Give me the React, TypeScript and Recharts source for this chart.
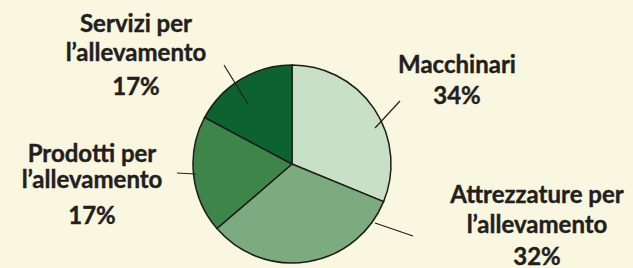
import { PieChart, Pie, Cell } from 'recharts';

// categorie (in senso orario dall'alto)
const categories: string[][] = [
  ['Macchinari'],
  ['Attrezzature per', 'l’allevamento'],
  ['Prodotti per', 'l’allevamento'],
  ['Servizi per', 'l’allevamento'],
];
// ampiezza degli spicchi come disegnati nel grafico
const shares = [31.2, 32.5, 19.1, 17.2];
// percentuali stampate sulle etichette
const percentLabels = ['34%', '32%', '17%', '17%'];

const colors = ['#c8e0c6', '#7dab80', '#3d8549', '#0d6330'];
const BG = '#faf7e0';
const INK = '#231f20';

// posizione etichette e linee guida, relative al centro della torta
const labelLayout = [
  { line: [[83, -36], [108, -63]], x: 165, y: [-91, -60] },
  { line: [[83, 59], [121, 72]], x: 245, y: [39, 69, 101] },
  { line: [[-96, 10], [-115, 9]], x: -200, y: [-2, 24, 60] },
  { line: [[-44, -60], [-68, -99]], x: -156, y: [-132, -103, -69] },
];

const data = categories.map((lines, i) => ({
  name: lines.join(' '),
  value: shares[i],
}));

function renderLabel(props: any) {
  const { cx, cy, index } = props;
  const l = labelLayout[index];
  const texts = [...categories[index], percentLabels[index]];
  return (
    <g key={`lbl-${index}`}>
      <line
        x1={cx + l.line[0][0]}
        y1={cy + l.line[0][1]}
        x2={cx + l.line[1][0]}
        y2={cy + l.line[1][1]}
        stroke={INK}
        strokeWidth={1.2}
      />
      {texts.map((t, k) => (
        <text
          key={k}
          x={cx + l.x}
          y={cy + l.y[k]}
          textAnchor="middle"
          fill={INK}
          stroke={INK}
          strokeWidth={0.4}
          fontFamily="Lato, sans-serif"
          fontWeight={700}
          fontSize={24}
        >
          {t}
        </text>
      ))}
    </g>
  );
}

export default function App() {
  return (
    <div style={{ position: 'fixed', left: 0, top: 0, width: 633, height: 268, background: BG }}>
      <PieChart width={633} height={268} margin={{ top: 0, right: 0, bottom: 0, left: 0 }}>
        <Pie
          data={data}
          dataKey="value"
          cx={292}
          cy={164}
          outerRadius={99}
          startAngle={90}
          endAngle={-270}
          stroke="#1d1d1b"
          strokeWidth={1.5}
          label={renderLabel}
          labelLine={false}
          isAnimationActive={false}
        >
          {data.map((d, i) => (
            <Cell key={d.name} fill={colors[i]} />
          ))}
        </Pie>
      </PieChart>
    </div>
  );
}
